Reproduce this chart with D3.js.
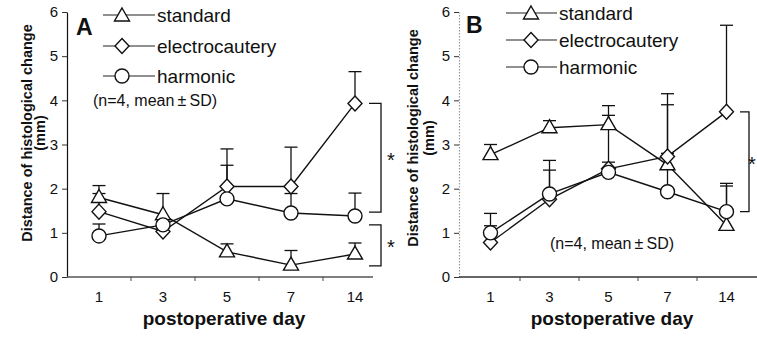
<!DOCTYPE html>
<html><head><meta charset="utf-8">
<script src="https://cdn.jsdelivr.net/npm/d3@7/dist/d3.min.js"></script>
<style>body{margin:0;background:#fff}svg{display:block}text{font-family:"Liberation Sans",Arial,sans-serif;fill:#111}</style>
</head><body><svg id="c" width="757" height="341"></svg>
<script>
const days = ["1","3","5","7","14"];
const yTicks = [0,1,2,3,4,5,6];
const seriesNames = ["standard","electrocautery","harmonic"];
const symbols = ["triangle","diamond","circle"];

// Panel A: means and top of SD bar
const aStandard = [1.80,1.41,0.57,0.27,0.52];
const aStandardSD = [2.07,1.89,0.75,0.60,0.77];
const aElectro = [1.48,1.03,2.05,2.05,3.93];
const aElectroSD = [1.89,1.25,2.90,2.94,4.65];
const aHarmonic = [0.93,1.18,1.77,1.45,1.38];
const aHarmonicSD = [1.20,1.35,2.53,1.89,1.90];

// Panel B
const bStandard = [2.77,3.38,3.45,2.54,1.17];
const bStandardSD = [3.00,3.54,3.88,2.80,2.06];
const bElectro = [0.78,1.76,2.45,2.73,3.74];
const bElectroSD = [1.16,2.42,3.66,4.15,5.70];
const bHarmonic = [1.00,1.88,2.37,1.93,1.48];
const bHarmonicSD = [1.44,2.64,2.60,3.90,2.12];

const bracketsA = [[3.93,1.47],[1.18,0.25]];
const bracketsB = [[3.74,1.48]];

const svg = d3.select("#c");

function marker(g, type, x, y){
  let p;
  if(type==="triangle") p = `M${x},${y-8}L${x+7.5},${y+5}L${x-7.5},${y+5}Z`;
  else if(type==="diamond") p = `M${x},${y-7.5}L${x+7},${y}L${x},${y+7.5}L${x-7},${y}Z`;
  else { g.append("circle").attr("cx",x).attr("cy",y).attr("r",7).attr("fill","#fff").attr("stroke","#111").attr("stroke-width",1.4); return; }
  g.append("path").attr("d",p).attr("fill","#fff").attr("stroke","#111").attr("stroke-width",1.4).attr("stroke-linejoin","miter");
}

function panel(o){
  const g = svg.append("g");
  const x = d3.scaleBand().domain(days).range(o.xr);
  const y = d3.scaleLinear().domain([0,6]).range([277,12]);
  // y axis
  const ya = g.append("g").attr("transform",`translate(${o.ax},0)`)
    .call(d3.axisLeft(y).tickValues(yTicks).tickFormat(d3.format("d")).tickSize(5).tickPadding(4).tickSizeOuter(0));
  ya.select(".domain").attr("stroke",o.yAxisColor).attr("stroke-width",1.2).attr("stroke-dasharray",o.yDash);
  ya.selectAll(".tick line").attr("stroke","#333");
  ya.selectAll("text").attr("font-size",15).style("font-family","Liberation Sans, Arial, sans-serif").attr("fill","#111");
  // x axis
  const xa = g.append("g").attr("transform","translate(0,277)");
  xa.append("line").attr("x1",o.ax).attr("x2",o.xEnd).attr("y1",0).attr("y2",0).attr("stroke",o.xAxisColor).attr("stroke-width",1.3);
  days.slice(1).forEach(d=>{
    xa.append("line").attr("x1",x(d)).attr("x2",x(d)).attr("y1",0).attr("y2",4).attr("stroke","#444");
  });
  days.forEach(d=>{
    xa.append("text").attr("x",x(d)+x.bandwidth()/2).attr("y",25).attr("text-anchor","middle").attr("font-size",15).text(d);
  });
  g.append("text").attr("x",o.xTitle).attr("y",325).attr("text-anchor","middle").attr("font-size",19).attr("font-weight","bold").text("postoperative day");
  g.append("text").attr("transform",`translate(${o.yl1},${o.ylc}) rotate(-90)`).attr("text-anchor","middle").attr("dominant-baseline","central").attr("font-size",14.5).attr("font-weight","bold").text("Distance of histological change");
  g.append("text").attr("transform",`translate(${o.yl2},${o.ylc}) rotate(-90)`).attr("text-anchor","middle").attr("dominant-baseline","central").attr("font-size",14.5).attr("font-weight","bold").text("(mm)");
  // panel letter
  g.append("text").attr("x",o.letterX).attr("y",o.letterY).attr("font-size",23).attr("font-weight","bold").text(o.letter);
  const cx = d => x(d)+x.bandwidth()/2;
  // error bars
  o.series.forEach(s=>{
    s.vals.forEach((v,i)=>{
      const xx = cx(days[i]);
      g.append("line").attr("x1",xx).attr("x2",xx).attr("y1",y(v)).attr("y2",y(s.sd[i])).attr("stroke","#111").attr("stroke-width",1.3);
      g.append("line").attr("x1",xx-6.5).attr("x2",xx+6.5).attr("y1",y(s.sd[i])).attr("y2",y(s.sd[i])).attr("stroke","#111").attr("stroke-width",1.3);
    });
  });
  // lines
  const line = d3.line().x((v,i)=>cx(days[i])).y(v=>y(v));
  o.series.forEach(s=>{
    g.append("path").attr("d",line(s.vals)).attr("fill","none").attr("stroke","#111").attr("stroke-width",1.4);
  });
  // markers
  o.series.forEach((s,k)=>{
    s.vals.forEach((v,i)=>marker(g,symbols[k],cx(days[i]),y(v)));
  });
  // legend
  seriesNames.forEach((n,k)=>{
    const ly = o.legY[k];
    g.append("line").attr("x1",o.legX1).attr("x2",o.legX2).attr("y1",ly).attr("y2",ly).attr("stroke","#222").attr("stroke-width",1.2);
    marker(g,symbols[k],o.legM,ly + (k===0?1:0));
    g.append("text").attr("x",o.legX2+2).attr("y",ly+6.5).attr("font-size",19).text(n);
  });
  g.append("text").attr("x",o.noteX).attr("y",o.noteY).attr("dominant-baseline","central").attr("font-size",16).text("(n=4, mean\u2009\u00B1\u2009SD)");
  // brackets
  o.brackets.forEach(b=>{
    const t=y(b[0]), bt=y(b[1]);
    g.append("path").attr("d",`M${o.brX1},${t}H${o.brX2}V${bt}H${o.brX1}`).attr("fill","none").attr("stroke","#111").attr("stroke-width",1.3);
    g.append("text").attr("x",Math.min(o.brX2+10,752)).attr("y",(t+bt)/2+9).attr("text-anchor","middle").attr("font-size",20).text("*");
  });
}

panel({xr:[67,387], ax:67, xEnd:373, yAxisColor:"#111", yDash:null, xAxisColor:"#555",
  xTitle:224, yl1:27, yl2:40, ylc:133, letter:"A", letterX:76, letterY:35,
  series:[{vals:aStandard,sd:aStandardSD},{vals:aElectro,sd:aElectroSD},{vals:aHarmonic,sd:aHarmonicSD}],
  legY:[15,46,76], legX1:103, legX2:155, legM:122, noteX:93, noteY:100,
  brackets:bracketsA, brX1:369, brX2:381});

panel({xr:[461,756], ax:459, xEnd:757, yAxisColor:"#999", yDash:"1.5,1.5", xAxisColor:"#333",
  xTitle:612, yl1:413, yl2:429, ylc:138, letter:"B", letterX:466, letterY:33,
  series:[{vals:bStandard,sd:bStandardSD},{vals:bElectro,sd:bElectroSD},{vals:bHarmonic,sd:bHarmonicSD}],
  legY:[13,40,67], legX1:506, legX2:557, legM:531, noteX:550, noteY:243,
  brackets:bracketsB, brX1:740, brX2:749});
</script></body></html>
